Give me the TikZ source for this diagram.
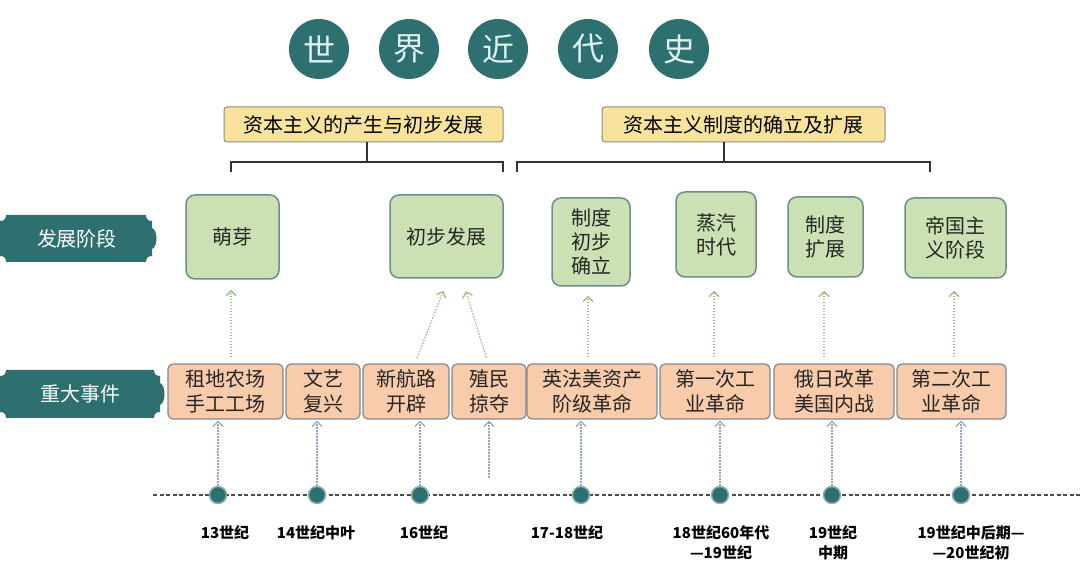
\documentclass[tikz,border=0pt]{standalone}
\usepackage{fontspec}
\setmainfont{Noto Sans CJK SC}
\usetikzlibrary{arrows.meta,calc}
\definecolor{tealdark}{HTML}{2E6F6F}
\definecolor{circtext}{HTML}{DDF3F0}
\definecolor{yfill}{HTML}{F9E29B}
\definecolor{yline}{HTML}{8C8C84}
\definecolor{gfill}{HTML}{CCE1B3}
\definecolor{gline}{HTML}{6E8F88}
\definecolor{ofill}{HTML}{F8CBAA}
\definecolor{oline}{HTML}{7E8898}
\definecolor{garrow}{HTML}{9CC083}
\definecolor{barrow}{HTML}{93A8C2}
\definecolor{txt}{HTML}{262626}
\newcommand{\bannershape}[4]{%
  \fill[tealdark] ({#1+6},#2) -- ({#3-6},#2)
   .. controls ({#3-6},{#2+4}) and ({#3-4},{#2+6}) .. (#3,{#2+6})
   -- (#3,{#2+13}) .. controls ({#3+6},{#2+15}) and ({#3+6},{#4-15}) .. (#3,{#4-13})
   -- (#3,{#4-6}) .. controls ({#3-4},{#4-6}) and ({#3-6},{#4-4}) .. ({#3-6},#4)
   -- ({#1+6},#4) .. controls ({#1+6},{#4-4}) and ({#1+4},{#4-6}) .. (#1,{#4-6})
   -- (#1,{#4-13}) .. controls ({#1-6},{#4-15}) and ({#1-6},{#2+15}) .. (#1,{#2+13})
   -- (#1,{#2+6}) .. controls ({#1+4},{#2+6}) and ({#1+6},{#2+4}) .. ({#1+6},#2) -- cycle;}
\begin{document}
\begin{tikzpicture}[x=1pt,y=-1pt,
  circ/.style={circle,fill=tealdark,minimum size=60pt,inner sep=0pt,text=circtext,font=\fontsize{32}{32}\selectfont},
  ybox/.style={draw=yline,line width=1pt,fill=yfill,rounded corners=3pt,minimum height=35pt,inner sep=0pt,text=black,font=\fontsize{20}{24}\selectfont},
  gbox/.style={draw=gline,line width=1.5pt,fill=gfill,rounded corners=9pt,inner sep=0pt,align=center,text=txt,font=\fontsize{20}{24}\selectfont},
  obox/.style={draw=oline,line width=1.2pt,fill=ofill,rounded corners=5pt,minimum height=55pt,inner sep=0pt,align=center,text=txt,font=\fontsize{20}{25}\selectfont},
  bantext/.style={text=white,inner sep=0pt,font=\fontsize{20}{24}\selectfont},
  brk/.style={draw=black!80,line width=2pt},
  garr/.style={draw=garrow,line width=1.3pt,dash pattern=on 1.5pt off 1.5pt,-{Straight Barb[length=5pt,width=10pt,line width=1.3pt]}},
  barr/.style={draw=barrow,line width=1.3pt,dash pattern=on 1.5pt off 1.5pt,-{Straight Barb[length=5pt,width=10pt,line width=1.3pt]}},
  dot/.style={circle,fill=tealdark,draw=tealdark!55,line width=1.5pt,minimum size=17pt,inner sep=0pt},
  datel/.style={align=center,text=black,inner sep=0pt,font=\bfseries\fontsize{15}{20}\selectfont}
]
\useasboundingbox (0,0) rectangle (1080,577);
% title
\node[circ] (c1) at (319,49) {世};
\node[circ] (c2) at (409,49) {界};
\node[circ] (c3) at (498,49) {近};
\node[circ] (c4) at (588,49) {代};
\node[circ] (c5) at (679,49) {史};
% yellow boxes
\node[ybox,minimum width=279pt] (y1) at (363.5,124.5) {资本主义的产生与初步发展};
\node[ybox,minimum width=283pt] (y2) at (743.5,124.5) {资本主义制度的确立及扩展};
% brackets
\coordinate (k1) at (367,162);
\coordinate (k2) at (724,162);
\coordinate (k1l) at (231,172); \coordinate (k1r) at (503,172);
\coordinate (k2l) at (517,172); \coordinate (k2r) at (930,172);
\draw[brk] (k1 |- y1.south) -- (k1);
\draw[brk] (k1l) -- (k1l |- k1) -- (k1r |- k1) -- (k1r);
\draw[brk] (k2 |- y2.south) -- (k2);
\draw[brk] (k2l) -- (k2l |- k2) -- (k2r |- k2) -- (k2r);
% banners
\bannershape{0}{215}{152}{262}
\node[bantext] (b1) at (77,238.5) {发展阶段};
\bannershape{0}{370}{160}{418}
\node[bantext] (b2) at (80,394) {重大事件};
% green boxes
\node[gbox,minimum width=93pt,minimum height=84pt] (g1) at (232.5,237) {萌芽};
\node[gbox,minimum width=113pt,minimum height=83pt] (g2) at (446.5,236.5) {初步发展};
\node[gbox,minimum width=78pt,minimum height=88pt] (g3) at (591,242) {制度\\初步\\确立};
\node[gbox,minimum width=80pt,minimum height=85pt] (g4) at (716,234.5) {蒸汽\\时代};
\node[gbox,minimum width=75pt,minimum height=80pt] (g5) at (825.5,237) {制度\\扩展};
\node[gbox,minimum width=101pt,minimum height=80pt] (g6) at (955.5,238) {帝国主\\义阶段};
% orange boxes
\node[obox,minimum width=115pt] (o1) at (225.5,391.5) {租地农场\\手工工场};
\node[obox,minimum width=74pt] (o2) at (323,391.5) {文艺\\复兴};
\node[obox,minimum width=86pt] (o3) at (406,391.5) {新航路\\开辟};
\node[obox,minimum width=74pt] (o4) at (489,391.5) {殖民\\掠夺};
\node[obox,minimum width=130pt] (o5) at (592,391.5) {英法美资产\\阶级革命};
\node[obox,minimum width=110pt] (o6) at (715,391.5) {第一次工\\业革命};
\node[obox,minimum width=120pt] (o7) at (834,391.5) {俄日改革\\美国内战};
\node[obox,minimum width=109pt] (o8) at (951.5,391.5) {第二次工\\业革命};
% green arrows
\draw[garr,shorten <=6pt,shorten >=10pt] ([xshift=-1.5pt]g1.south |- o1.north) -- ([xshift=-1.5pt]g1.south);
\draw[garr,shorten <=6pt,shorten >=13pt] ([xshift=9pt]o3.north) -- ([xshift=1.5pt]g2.south);
\draw[garr,shorten <=6pt,shorten >=13pt] ([xshift=-1pt]o4.north) -- ([xshift=15.5pt]g2.south);
\draw[garr,shorten <=6pt,shorten >=9pt] ([xshift=-3pt]g3.south |- o5.north) -- ([xshift=-3pt]g3.south);
\draw[garr,shorten <=6pt,shorten >=13pt] ([xshift=-2pt]g4.south |- o6.north) -- ([xshift=-2pt]g4.south);
\draw[garr,shorten <=6pt,shorten >=13pt] ([xshift=-1.5pt]g5.south |- o7.north) -- ([xshift=-1.5pt]g5.south);
\draw[garr,shorten <=6pt,shorten >=12pt] ([xshift=-1.5pt]g6.south |- o8.north) -- ([xshift=-1.5pt]g6.south);
% timeline
\coordinate (t0) at (153,495);
\coordinate (t1) at (1080,495);
\draw[draw=black!70,line width=1.6pt,dash pattern=on 4pt off 2.5pt] (t0) -- (t1);
\node[dot] (d1) at (218,495) {};
\node[dot] (d2) at (317,495) {};
\node[dot] (d3) at (420,495) {};
\node[dot] (d4) at (581,495) {};
\node[dot] (d5) at (720,495) {};
\node[dot] (d6) at (832,495) {};
\node[dot] (d7) at (961,495) {};
% blue arrows
\draw[barr,shorten >=1pt] (d1.north) -- (d1.north |- o1.south);
\draw[barr,shorten >=1pt] (d2.north) -- (d2.north |- o2.south);
\draw[barr,shorten >=1pt] (d3.north) -- (d3.north |- o3.south);
\coordinate (e4) at (489,478);
\draw[barr,shorten >=1pt] (e4) -- (e4 |- o4.south);
\draw[barr,shorten >=1pt] (d4.north) -- (d4.north |- o5.south);
\draw[barr,shorten >=1pt] (d5.north) -- (d5.north |- o6.south);
\draw[barr,shorten >=1pt] (d6.north) -- (d6.north |- o7.south);
\draw[barr,shorten >=1pt] (d7.north) -- (d7.north |- o8.south);
% date labels
\node[datel,anchor=north] (l1) at (225,525) {13世纪};
\node[datel,anchor=north] (l2) at (316,525) {14世纪中叶};
\node[datel,anchor=north] (l3) at (424,525) {16世纪};
\node[datel,anchor=north] (l4) at (567,525) {17-18世纪};
\node[datel,anchor=north] (l5) at (721,525) {18世纪60年代\\—19世纪};
\node[datel,anchor=north] (l6) at (833,525) {19世纪\\中期};
\node[datel,anchor=north] (l7) at (971,525) {19世纪中后期—\\—20世纪初};
\end{tikzpicture}
\end{document}
